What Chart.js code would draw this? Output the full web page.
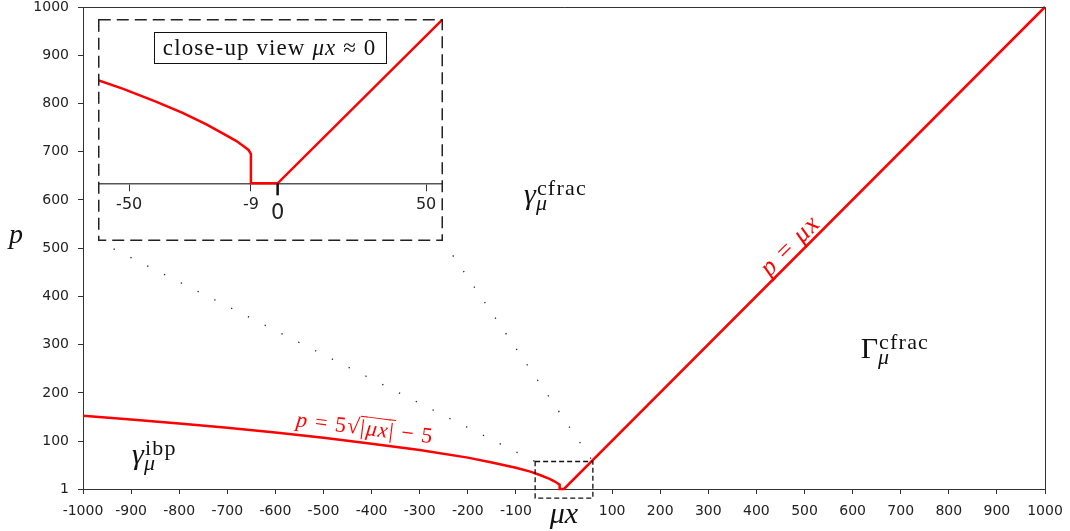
<!DOCTYPE html>
<html lang="en">
<head>
<meta charset="UTF-8" />
<title>p vs mu x</title>
<script src="https://cdn.jsdelivr.net/npm/chart.js"></script>
<style>
  body { margin: 0; background: #fff; }
  .wrap { position: relative; width: 1070px; height: 531px; }
  #mainChart { position: absolute; left: 0; top: 0; }
  #insetBox { position: absolute; left: 98px; top: 19px; width: 345px; height: 222px; }
</style>
</head>
<body>
<div class="wrap">
  <canvas id="mainChart" width="1070" height="531"></canvas>
  <div id="insetBox"><canvas id="insetChart" width="345" height="222"></canvas></div>
</div>
<script>
// main plot
const muX = [-1000, -900, -800, -700, -600, -500, -400, -300, -200, -150, -100, -70, -50, -30, -20, -12, -9, -9, 0, 1000];
const pVals = [153, 145, 137, 128, 118, 107, 95, 82, 66, 56, 45, 37, 30, 22, 17, 12, 10, 1, 1, 1000];
const xTicks = [-1000, -900, -800, -700, -600, -500, -400, -300, -200, -100, 100, 200, 300, 400, 500, 600, 700, 800, 900, 1000];
const pTicks = [1, 100, 200, 300, 400, 500, 600, 700, 800, 900, 1000];

// close-up around mu x = 0
const insetX = [-60.5, -52, -41, -32, -24, -18.5, -14, -11.2, -9.8, -9, -9, 0, 55.7];
const insetP = [35, 32, 27.7, 23.9, 20, 16.9, 14.4, 12.4, 11.3, 10, 0, 0, 55.7];
const insetTicks = [-50, -9, 0, 50];

// region marked by the dashed box on the main plot
const zoomX = [-60, 60];
const zoomP = [-18, 58];

const axisColor = '#333';
const textColor = '#222';
const red = '#ff0000';
const serif = "'Liberation Serif', 'DejaVu Serif', serif";

Chart.defaults.font.family = "'DejaVu Sans', sans-serif";
Chart.defaults.color = textColor;

function toPoints(xs, ys) {
  return xs.map((x, i) => ({ x: x, y: ys[i] }));
}

// base letter with super/subscript, like gamma_mu^cfrac
function mathLabel(ctx, x, y, base, baseItalic, sup, sub, size) {
  ctx.save();
  ctx.textAlign = 'left';
  ctx.textBaseline = 'alphabetic';
  ctx.font = (baseItalic ? 'italic ' : '') + size + 'px ' + serif;
  ctx.fillText(base, x, y);
  const w = ctx.measureText(base).width;
  const s = Math.round(size * 0.72);
  ctx.letterSpacing = '1.2px';
  ctx.font = s + 'px ' + serif;
  ctx.fillText(sup, x + w + 1, y - size * 0.3);
  ctx.letterSpacing = '0px';
  ctx.font = 'italic ' + s + 'px ' + serif;
  ctx.fillText(sub, x + w, y + size * 0.2);
  ctx.restore();
}

// run of text pieces drawn centred at (cx, cy), rotated
function rotatedText(ctx, cx, cy, angle, pieces, size, color, spacing) {
  ctx.save();
  ctx.translate(cx, cy);
  ctx.rotate(angle);
  ctx.fillStyle = color;
  ctx.strokeStyle = color;
  ctx.textBaseline = 'alphabetic';
  ctx.textAlign = 'left';
  ctx.letterSpacing = spacing + 'px';
  let total = 0;
  pieces.forEach(p => {
    ctx.font = (p.it ? 'italic ' : '') + size + 'px ' + serif;
    p.w = ctx.measureText(p.t).width;
    total += p.w;
  });
  let x = -total / 2;
  const base = size * 0.3;
  pieces.forEach(p => {
    ctx.font = (p.it ? 'italic ' : '') + size + 'px ' + serif;
    ctx.fillText(p.t, x, base);
    if (p.bar) {
      ctx.lineWidth = 1;
      ctx.beginPath();
      ctx.moveTo(x - 1, base - size * 0.82);
      ctx.lineTo(x + p.w, base - size * 0.82);
      ctx.stroke();
    }
    x += p.w;
  });
  ctx.restore();
}

const mainDecor = {
  id: 'mainDecor',
  afterDraw(chart) {
    const ctx = chart.ctx;
    const a = chart.chartArea;
    const sx = chart.scales.x, sy = chart.scales.y;
    ctx.save();

    // top and right spines
    ctx.strokeStyle = axisColor;
    ctx.lineWidth = 1;
    ctx.beginPath();
    ctx.moveTo(a.left, a.top + 0.5);
    ctx.lineTo(a.right + 0.5, a.top + 0.5);
    ctx.lineTo(a.right + 0.5, a.bottom);
    ctx.stroke();

    // dashed box around the close-up region
    const bx0 = sx.getPixelForValue(zoomX[0]), bx1 = sx.getPixelForValue(zoomX[1]);
    const by0 = sy.getPixelForValue(zoomP[1]), by1 = sy.getPixelForValue(zoomP[0]);
    ctx.strokeStyle = '#111';
    ctx.lineWidth = 1.3;
    ctx.setLineDash([5, 3]);
    ctx.strokeRect(bx0, by0, bx1 - bx0, by1 - by0);

    // dotted connectors from inset frame corners
    const box = document.getElementById('insetBox');
    const il = box.offsetLeft, ir = box.offsetLeft + box.offsetWidth, ib = box.offsetTop + box.offsetHeight;
    ctx.setLineDash([1.3, 17.5]);
    ctx.lineDashOffset = -17.5;
    ctx.lineWidth = 1.3;
    ctx.strokeStyle = '#222';
    ctx.beginPath();
    ctx.moveTo(il, ib);
    ctx.lineTo(bx0, by0);
    ctx.moveTo(ir, ib);
    ctx.lineTo(bx1, by0);
    ctx.stroke();
    ctx.setLineDash([]);

    // region names
    ctx.fillStyle = '#111';
    mathLabel(ctx, sx.getPixelForValue(-83), sy.getPixelForValue(592), '\u03b3', true, 'cfrac', '\u03bc', 30);
    mathLabel(ctx, sx.getPixelForValue(617), sy.getPixelForValue(273), '\u0393', false, 'cfrac', '\u03bc', 30);
    mathLabel(ctx, sx.getPixelForValue(-898), sy.getPixelForValue(53), '\u03b3', true, 'ibp', '\u03bc', 30);

    // curve labels
    const ang1 = Math.atan2(sy.getPixelForValue(1000) - sy.getPixelForValue(1), sx.getPixelForValue(1000) - sx.getPixelForValue(1));
    rotatedText(ctx, sx.getPixelForValue(470), sy.getPixelForValue(506), ang1, [
      { t: 'p', it: true }, { t: ' = ', it: false }, { t: '\u03bcx', it: true }
    ], 26, red, 1.5);
    const ang2 = Math.atan2(sy.getPixelForValue(82) - sy.getPixelForValue(107), sx.getPixelForValue(-300) - sx.getPixelForValue(-500));
    rotatedText(ctx, sx.getPixelForValue(-414), sy.getPixelForValue(127), ang2, [
      { t: 'p', it: true }, { t: ' = 5', it: false }, { t: '\u221a', it: false },
      { t: '|', it: false, bar: true }, { t: '\u03bcx', it: true, bar: true }, { t: '|', it: false, bar: true },
      { t: ' \u2212 5', it: false }
    ], 22, red, 1.2);

    // axis titles
    ctx.fillStyle = '#111';
    ctx.textAlign = 'left';
    ctx.textBaseline = 'alphabetic';
    ctx.font = 'italic 28px ' + serif;
    ctx.fillText('p', 9, (a.top + a.bottom) / 2 - 5);
    ctx.font = 'italic 30px ' + serif;
    ctx.textAlign = 'center';
    ctx.fillText('\u03bcx', (a.left + a.right) / 2, 523);
    ctx.restore();
  }
};

new Chart(document.getElementById('mainChart'), {
  type: 'line',
  data: {
    datasets: [{
      data: toPoints(muX, pVals),
      borderColor: red,
      borderWidth: 2.5,
      pointRadius: 0,
      tension: 0,
      fill: false,
      clip: 4
    }]
  },
  options: {
    responsive: false,
    animation: false,
    layout: { padding: { top: 7, right: 25, left: 0, bottom: 0 } },
    plugins: { legend: { display: false }, tooltip: { enabled: false } },
    scales: {
      x: {
        type: 'linear', min: -1000, max: 1000,
        afterBuildTicks: s => { s.ticks = xTicks.map(v => ({ value: v })); },
        afterFit: s => { s.height = 42; s.paddingLeft = 0; s.paddingRight = 0; },
        grid: { drawOnChartArea: false, drawTicks: true, tickLength: 5, color: axisColor },
        border: { display: true, color: axisColor, width: 1 },
        ticks: { font: { size: 14 }, padding: 9, color: textColor, maxRotation: 0, autoSkip: false, callback: v => String(v) }
      },
      y: {
        type: 'linear', min: 1, max: 1000,
        afterBuildTicks: s => { s.ticks = pTicks.map(v => ({ value: v })); },
        afterFit: s => { s.width = 83; s.paddingTop = 0; s.paddingBottom = 0; },
        grid: { drawOnChartArea: false, drawTicks: true, tickLength: 5, color: axisColor },
        border: { display: true, color: axisColor, width: 1 },
        ticks: { font: { size: 14, lineHeight: 1 }, padding: 9, color: textColor, autoSkip: false, callback: v => String(v) }
      }
    }
  },
  plugins: [mainDecor]
});

const insetDecor = {
  id: 'insetDecor',
  afterDraw(chart) {
    const ctx = chart.ctx;
    const sx = chart.scales.x, sy = chart.scales.y;
    ctx.save();
    // dashed frame
    ctx.strokeStyle = '#222';
    ctx.lineWidth = 1.5;
    ctx.setLineDash([12, 6]);
    ctx.strokeRect(0.75, 0.75, chart.width - 1.5, chart.height - 1.5);
    ctx.setLineDash([]);

    // longer mark at zero
    const z = sx.getPixelForValue(0);
    ctx.strokeStyle = '#111';
    ctx.lineWidth = 2.5;
    ctx.beginPath();
    ctx.moveTo(z, chart.chartArea.bottom);
    ctx.lineTo(z, chart.chartArea.bottom + 12);
    ctx.stroke();

    // label box
    const cx = sx.getPixelForValue(-2.7), cy = sy.getPixelForValue(46);
    const size = 23;
    const pieces = [{ t: 'close-up view ', it: false }, { t: '\u03bcx', it: true }, { t: ' \u2248 0', it: false }];
    ctx.letterSpacing = '1.1px';
    let w = 0;
    pieces.forEach(p => { ctx.font = (p.it ? 'italic ' : '') + size + 'px ' + serif; p.w = ctx.measureText(p.t).width; w += p.w; });
    ctx.fillStyle = '#fff';
    ctx.fillRect(cx - w / 2 - 9, cy - 15.5, w + 18, 31);
    ctx.strokeStyle = '#111';
    ctx.lineWidth = 1;
    ctx.strokeRect(Math.round(cx - w / 2 - 9) + 0.5, Math.round(cy - 15.5) + 0.5, Math.round(w + 18), 31);
    ctx.fillStyle = '#111';
    ctx.textBaseline = 'alphabetic';
    let x = cx - w / 2;
    pieces.forEach(p => { ctx.font = (p.it ? 'italic ' : '') + size + 'px ' + serif; ctx.fillText(p.t, x, cy + 7); x += p.w; });
    ctx.restore();
  }
};

new Chart(document.getElementById('insetChart'), {
  type: 'line',
  data: {
    datasets: [{
      data: toPoints(insetX, insetP),
      borderColor: red,
      borderWidth: 2.5,
      pointRadius: 0,
      tension: 0,
      fill: false,
      clip: false
    }]
  },
  options: {
    responsive: false,
    animation: false,
    layout: { padding: 0 },
    plugins: { legend: { display: false }, tooltip: { enabled: false } },
    scales: {
      x: {
        type: 'linear', min: -60.5, max: 55.7,
        afterBuildTicks: s => { s.ticks = insetTicks.map(v => ({ value: v })); },
        afterFit: s => { s.height = 57.7; s.paddingLeft = 0; s.paddingRight = 0; },
        grid: { drawOnChartArea: false, drawTicks: true, tickLength: 8, color: axisColor },
        border: { display: true, color: '#555', width: 1.5 },
        ticks: {
          padding: 4, color: textColor, maxRotation: 0, autoSkip: false,
          font: c => (c.tick && c.tick.value === 0 ? { size: 21, lineHeight: 1.75 } : { size: 16 }),
          callback: v => String(v)
        }
      },
      y: { display: false, min: 0, max: 55.7 }
    }
  },
  plugins: [insetDecor]
});
</script>
</body>
</html>
